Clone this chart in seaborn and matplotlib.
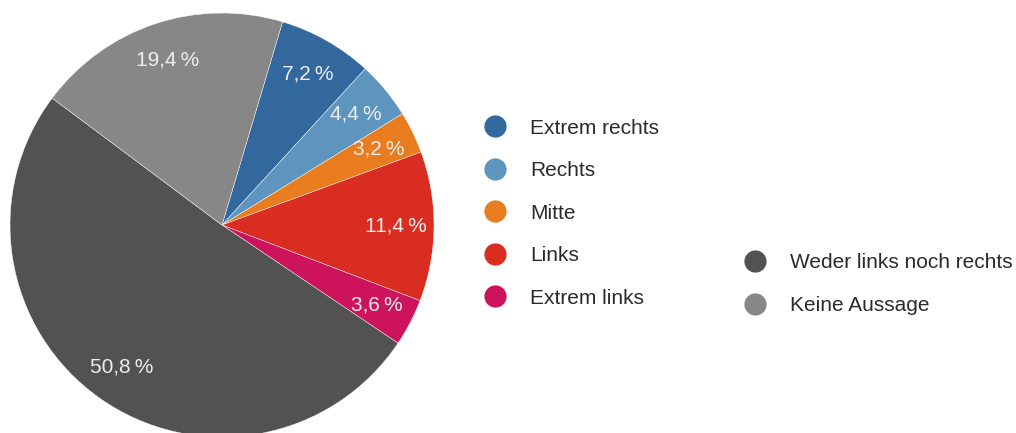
import matplotlib
matplotlib.use("Agg")
import matplotlib.pyplot as plt
from matplotlib.lines import Line2D
import seaborn as sns

categories = ["Extrem rechts", "Rechts", "Mitte", "Links", "Extrem links",
              "Weder links noch rechts", "Keine Aussage"]
values = [7.2, 4.4, 3.2, 11.4, 3.6, 50.8, 19.4]
colors = ["#33689e", "#5e95be", "#e87c1f", "#d92d21", "#cc135b", "#525252", "#878787"]

sns.set_theme(style="white")
plt.rcParams["font.family"] = ["Liberation Sans", "DejaVu Sans"]

fig = plt.figure(figsize=(10.16, 4.33), dpi=100)
W, H = 1016, 433
cx, cy, r = 222, 225, 212
ax = fig.add_axes([(cx - r) / W, (H - cy - r) / H, 2 * r / W, 2 * r / H])

def fmt(p):
    return f"{p:.1f}".replace(".", ",") + "\u2009%"

wedges, texts, autotexts = ax.pie(
    values, colors=colors, startangle=73.4, counterclock=False,
    autopct=fmt, pctdistance=0.82,
    wedgeprops=dict(edgecolor="white", linewidth=0.3),
    textprops=dict(color="#eeeeee", fontsize=15),
)
ax.set_xlim(-1, 1)
ax.set_ylim(-1, 1)
ax.set_aspect("equal")
ax.axis("off")

def handles(idx):
    return [Line2D([], [], marker="o", linestyle="none", markersize=16,
                   markerfacecolor=colors[i], markeredgecolor="none") for i in idx]

common = dict(loc="upper left", frameon=False, fontsize=15, labelspacing=1.13,
              handletextpad=0.98, handlelength=1.4, borderpad=0, borderaxespad=0,
              labelcolor="#2a2a2a")
leg1 = fig.legend(handles([0, 1, 2, 3, 4]), categories[:5],
                  bbox_to_anchor=(480.5 / W, 1 - 118.5 / H), **common)
leg2 = fig.legend(handles([5, 6]), categories[5:],
                  bbox_to_anchor=(740.5 / W, 1 - 253.5 / H), **common)

fig.savefig("out.png", dpi=100)
